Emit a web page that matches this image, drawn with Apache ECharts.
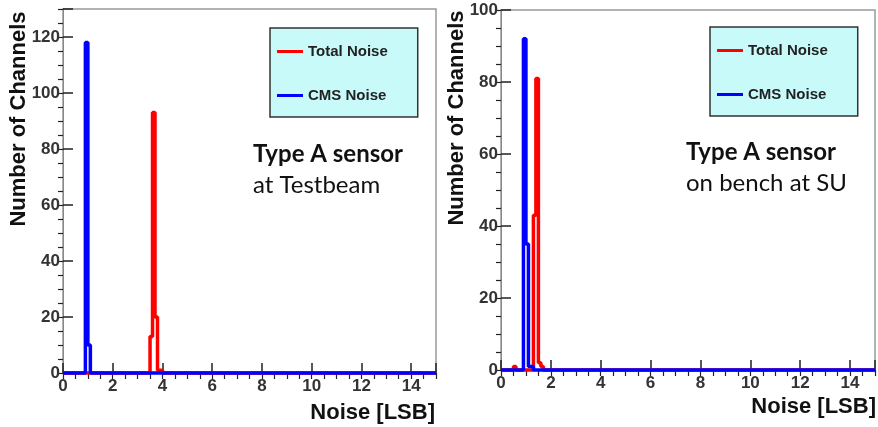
<!DOCTYPE html>
<html>
<head>
<meta charset="utf-8">
<script src="https://cdn.jsdelivr.net/npm/echarts@6/dist/echarts.min.js"></script>
<style>
  html, body { margin: 0; background: #fff; }
  #chart { width: 878px; height: 427px; }
</style>
</head>
<body>
<div id="chart"></div>
<script>
// histogram bins (lower edge, counts), bin width 0.1 LSB
const binWidth = 0.1
const xMin = 0
const xMax = 15

const testbeamTotalEdges = [3.5, 3.6, 3.7, 3.8, 3.9]
const testbeamTotalCounts = [13, 93, 20, 1, 1]
const testbeamCmsEdges = [0.9, 1.0]
const testbeamCmsCounts = [118, 10]

const benchTotalEdges = [0.5, 1.3, 1.4, 1.5, 1.6]
const benchTotalCounts = [1, 43, 81, 2, 1]
const benchCmsEdges = [0.9, 1.0, 1.1, 1.2]
const benchCmsCounts = [92, 35, 1, 1]

const seriesNames = ['Total Noise', 'CMS Noise']
const seriesColors = ['#ff0000', '#0000ff']

// turn bins into a step outline like ROOT draws it
function histPath (edges, counts) {
  let pts = [[xMin, 0]]
  let end = null
  edges.forEach((e, i) => {
    let gap = end === null || Math.abs(e - end) > 1e-6
    if (gap && end !== null) pts.push([end, 0])
    if (gap) pts.push([e, 0])
    pts.push([e, counts[i]], [e + binWidth, counts[i]])
    end = e + binWidth
  })
  pts.push([end, 0], [xMax, 0])
  return pts
}

const tickFont = { fontSize: 17, fontWeight: 'bold', color: '#333', fontFamily: 'Liberation Sans' }

function majorX (grid) {
  return {
    type: 'value', gridIndex: grid, min: xMin, max: xMax, interval: 2,
    axisLine: { lineStyle: { color: '#888', width: 1 } },
    axisTick: { inside: true, length: 10, lineStyle: { color: '#222', width: 1.5 } },
    axisLabel: Object.assign({ margin: 5, formatter: v => (v % 2 === 0 ? v : '') }, tickFont),
    splitLine: { show: false }
  }
}
function minorX (grid) {
  return {
    type: 'value', gridIndex: grid, min: xMin, max: xMax, interval: 0.5,
    axisLine: { show: false },
    axisTick: { inside: true, length: 6, lineStyle: { color: '#222', width: 1.2 } },
    axisLabel: { show: false },
    splitLine: { show: false }
  }
}
function majorY (grid, max) {
  return {
    type: 'value', gridIndex: grid, min: 0, max: max, interval: 20,
    axisLine: { show: true, lineStyle: { color: '#888', width: 1 } },
    axisTick: { show: true, inside: true, length: 10, lineStyle: { color: '#222', width: 1.5 } },
    axisLabel: Object.assign({ margin: 3, formatter: v => (v % 20 === 0 ? v : '') }, tickFont),
    splitLine: { show: false }
  }
}
function minorY (grid, max) {
  return {
    type: 'value', gridIndex: grid, min: 0, max: max, interval: 5,
    axisLine: { show: false },
    axisTick: { show: true, inside: true, length: 5, lineStyle: { color: '#222', width: 1.2 } },
    axisLabel: { show: false },
    splitLine: { show: false }
  }
}

function hist (name, color, axis, pts) {
  return {
    name: name, type: 'line', xAxisIndex: axis, yAxisIndex: axis,
    data: pts, symbol: 'none', clip: false,
    lineStyle: { color: color, width: 3.5 },
    itemStyle: { color: color }
  }
}

function legendBox (left, top) {
  return {
    left: left, top: top, orient: 'vertical', data: seriesNames,
    backgroundColor: '#c8fafa', borderColor: '#333', borderWidth: 1.5,
    padding: [16, 30, 14, 7], itemGap: 29, itemWidth: 26, itemHeight: 3,
    itemTextGap: 6, icon: 'rect', selectedMode: false,
    textStyle: { fontSize: 15, fontWeight: 'bold', color: '#222', fontFamily: 'Liberation Sans' }
  }
}

function label (x, y, text, font, align, rot) {
  return {
    type: 'text', x: x, y: y, rotation: rot || 0,
    style: { text: text, font: font, fill: '#111', textAlign: align, textVerticalAlign: 'middle' }
  }
}

let chart = echarts.init(document.getElementById('chart'))
chart.setOption({
  animation: false,
  grid: [
    { left: 63, top: 9, width: 373, height: 364, show: true, borderColor: '#999', borderWidth: 1.5, backgroundColor: '#fff' },
    { left: 501, top: 10, width: 375, height: 360, show: true, borderColor: '#999', borderWidth: 1.5, backgroundColor: '#fff' }
  ],
  legend: [legendBox(270, 28), legendBox(710, 27)],
  xAxis: [majorX(0), minorX(0), majorX(1), minorX(1)],
  yAxis: [majorY(0, 130), minorY(0, 130), majorY(1, 100), minorY(1, 100)],
  series: [
    hist(seriesNames[0], seriesColors[0], 0, histPath(testbeamTotalEdges, testbeamTotalCounts)),
    hist(seriesNames[1], seriesColors[1], 0, histPath(testbeamCmsEdges, testbeamCmsCounts)),
    hist(seriesNames[0], seriesColors[0], 2, histPath(benchTotalEdges, benchTotalCounts)),
    hist(seriesNames[1], seriesColors[1], 2, histPath(benchCmsEdges, benchCmsCounts))
  ],
  graphic: [
    label(19, 119, 'Number of Channels', 'bold 22px "Liberation Sans"', 'center', Math.PI / 2),
    label(457, 118, 'Number of Channels', 'bold 22px "Liberation Sans"', 'center', Math.PI / 2),
    label(435, 413, 'Noise [LSB]', 'bold 22px "Liberation Sans"', 'right'),
    label(876, 407, 'Noise [LSB]', 'bold 22px "Liberation Sans"', 'right'),
    label(253, 154, 'Type A sensor', 'bold 24px Lato', 'left'),
    label(253, 185, 'at Testbeam', '24px Lato', 'left'),
    label(686, 152, 'Type A sensor', 'bold 24px Lato', 'left'),
    label(686, 183, 'on bench at SU', '24px Lato', 'left')
  ]
})
</script>
</body>
</html>
